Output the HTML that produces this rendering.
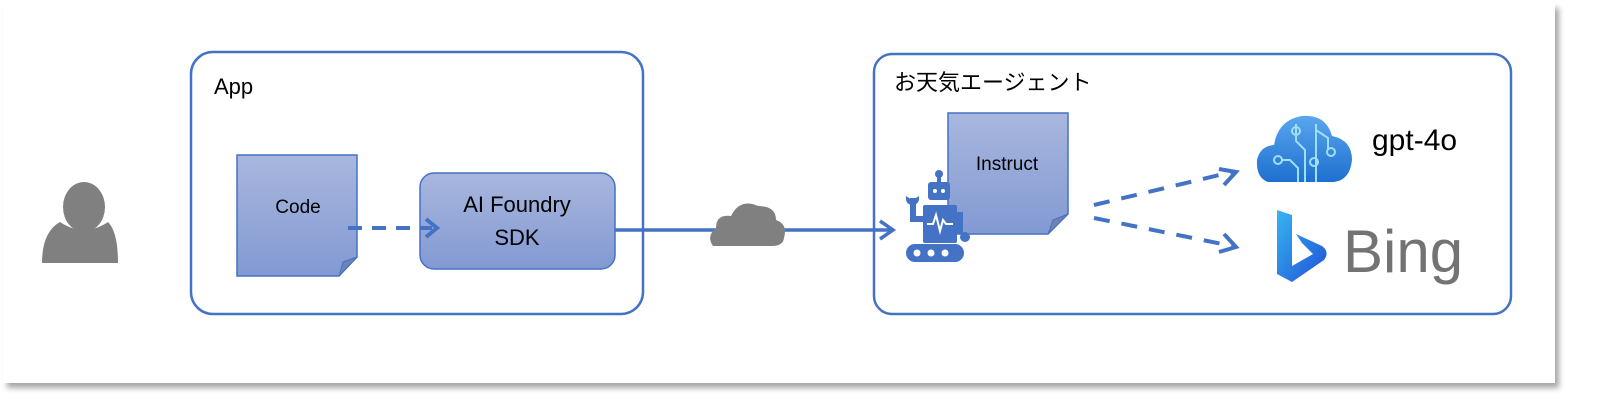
<!DOCTYPE html>
<html><head><meta charset="utf-8"><style>
html,body{margin:0;padding:0;background:#fff;}
svg{display:block;}
text{font-family:"Liberation Sans","Noto Sans CJK JP",sans-serif;}
</style></head><body>
<svg width="1609" height="405" viewBox="0 0 1609 405" xmlns="http://www.w3.org/2000/svg">
<defs>
<linearGradient id="g" x1="0" y1="0" x2="0" y2="1"><stop offset="0" stop-color="#a9b7de"/><stop offset="1" stop-color="#8299d2"/></linearGradient>
<linearGradient id="cl" x1="0" y1="0" x2="0" y2="1"><stop offset="0" stop-color="#5aa6ee"/><stop offset="1" stop-color="#1e6fd0"/></linearGradient>
<linearGradient id="bg" x1="0" y1="0" x2="1" y2="1"><stop offset="0" stop-color="#37b6f0"/><stop offset="1" stop-color="#1f4fd8"/></linearGradient>
<filter id="sh" x="-5%" y="-5%" width="110%" height="120%"><feDropShadow dx="4" dy="5" stdDeviation="3" flood-color="#000" flood-opacity="0.35"/></filter>
</defs>
<rect x="0" y="0" width="1609" height="405" fill="#fff"/>
<rect x="3" y="3" width="1552" height="380" fill="#fff" filter="url(#sh)"/>
<ellipse cx="84" cy="207" rx="21" ry="25" fill="#808080"/>
<path d="M42 263 Q42 232 60 222 Q84 238 108 222 Q118 232 118 263 Z" fill="#808080"/>
<rect x="191" y="52" width="452" height="262" rx="22" fill="none" stroke="#4472c4" stroke-width="2.5"/>
<text x="214" y="94" font-size="22" fill="#000">App</text>
<path d="M237 155 H357 V257 L339 276 H237 Z" fill="url(#g)" stroke="#4472c4" stroke-width="1.5"/>
<path d="M339 276 L343 262 L357 257 Z" fill="#6f83b5" stroke="#4472c4" stroke-width="1"/>
<text x="298" y="213" font-size="19" text-anchor="middle" fill="#000">Code</text>
<rect x="420" y="173" width="195" height="96" rx="14" fill="url(#g)" stroke="#4472c4" stroke-width="1.5"/>
<text x="517" y="212" font-size="22" text-anchor="middle" fill="#000">AI Foundry</text>
<text x="517" y="245" font-size="22" text-anchor="middle" fill="#000">SDK</text>
<line x1="348" y1="228" x2="432" y2="228" stroke="#4472c4" stroke-width="4" stroke-dasharray="14,10"/>
<path d="M426 219 L437 228 L426 237" fill="none" stroke="#4472c4" stroke-width="4"/>
<line x1="615" y1="230" x2="893" y2="230" stroke="#4472c4" stroke-width="3.5"/>
<path d="M880 221 L893 230 L880 239" fill="none" stroke="#4472c4" stroke-width="3.5"/>
<path d="M713 246 Q706 236 716 228 Q716 214 731 216 Q740 198 758 206 Q776 206 776 220 Q788 224 784 238 Q783 246 772 246 Z" fill="#808080"/>
<rect x="874" y="54" width="637" height="260" rx="18" fill="none" stroke="#4472c4" stroke-width="2.5"/>
<text x="894" y="90" font-size="22" fill="#000">お天気エージェント</text>
<path d="M948 113 H1068 V214 L1048 234 H948 Z" fill="url(#g)" stroke="#4472c4" stroke-width="1.5"/>
<path d="M1048 234 L1053 220 L1068 214 Z" fill="#6f83b5" stroke="#4472c4" stroke-width="1"/>
<text x="1007" y="170" font-size="19" text-anchor="middle" fill="#000">Instruct</text>
<g fill="#4472c4">
<circle cx="939" cy="174" r="4"/><rect x="937" y="176" width="4" height="6"/>
<rect x="928" y="182" width="22" height="18" rx="3"/>
<rect x="923" y="205" width="34" height="38" rx="2"/>
<rect x="906" y="244" width="58" height="18" rx="9"/>
<path d="M910 198 L910 222 L923 222 L923 216 L916 216 L916 198 Z"/>
<path d="M906 196 Q905 205 913 205 Q920 204 919 196 L916 198 L913 201 L909 198 Z"/>
<rect x="957" y="212" width="6" height="22"/>
<circle cx="965" cy="237" r="5"/>
</g>
<circle cx="935" cy="191" r="2" fill="#fff"/><circle cx="943" cy="191" r="2" fill="#fff"/>
<circle cx="917" cy="253" r="3.5" fill="#fff"/><circle cx="931" cy="253" r="3.5" fill="#fff"/><circle cx="945" cy="253" r="3.5" fill="#fff"/>
<polyline points="927,224 933,224 936,215 940,231 943,220 946,224 953,224" fill="none" stroke="#fff" stroke-width="2"/>
<line x1="1094" y1="205" x2="1232" y2="172" stroke="#4472c4" stroke-width="4" stroke-dasharray="16,12"/>
<path d="M1219 169 L1236 172 L1224 185" fill="none" stroke="#4472c4" stroke-width="4"/>
<line x1="1094" y1="218" x2="1232" y2="246" stroke="#4472c4" stroke-width="4" stroke-dasharray="16,12"/>
<path d="M1224 234 L1236 247 L1219 252" fill="none" stroke="#4472c4" stroke-width="4"/>
<path d="M1268 182 Q1256 178 1257 160 Q1260 146 1274 145 Q1278 120 1302 116 Q1326 114 1332 136 Q1352 140 1352 160 Q1350 180 1334 182 Z" fill="url(#cl)"/>
<g fill="none" stroke="#9ee0f8" stroke-width="2">
<path d="M1305 182 V150 L1296 141 V124"/><path d="M1316 182 V124 M1316 130 L1328 138 V150"/>
<path d="M1281 160 H1290 L1298 168 V182"/>
<circle cx="1296" cy="131" r="4"/><circle cx="1314" cy="162" r="4"/><circle cx="1331" cy="152" r="4"/><circle cx="1278" cy="160" r="4"/>
</g>
<text x="1372" y="150" font-size="30" fill="#000">gpt-4o</text>
<path d="M1277 210 L1292 215 V266 L1313 254 L1302 243 L1296 234 L1322 246 Q1330 252 1324 260 L1292 282 L1277 274 Z" fill="url(#bg)"/>
<text x="1343" y="272" font-size="60" fill="#737373">Bing</text>
</svg>
</body></html>
